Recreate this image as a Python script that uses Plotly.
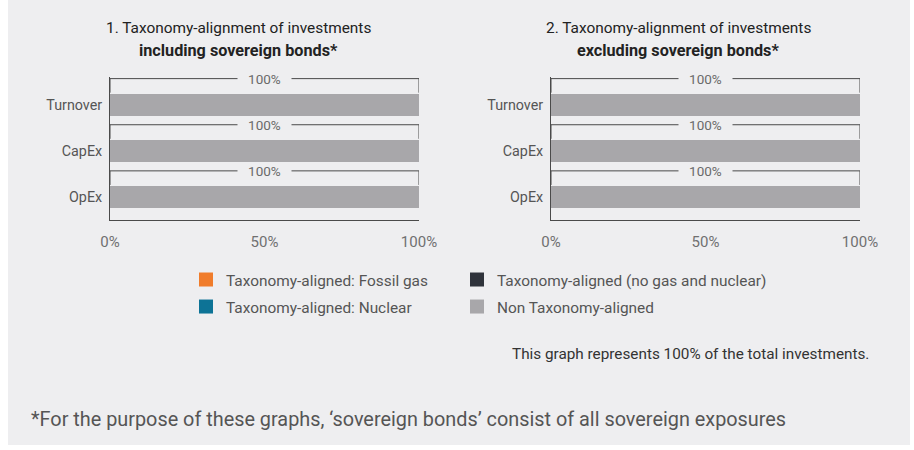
import plotly.graph_objects as go

# ---------------- data ----------------
categories = ["Turnover", "CapEx", "OpEx"]
series_names = [
    "Taxonomy-aligned: Fossil gas",
    "Taxonomy-aligned: Nuclear",
    "Taxonomy-aligned (no gas and nuclear)",
    "Non Taxonomy-aligned",
]
series_colors = ["#F07C2B", "#0D7396", "#2F333B", "#A8A7AA"]

# chart 1: including sovereign bonds
incl_fossil_gas = [0, 0, 0]
incl_nuclear = [0, 0, 0]
incl_aligned_other = [0, 0, 0]
incl_non_aligned = [100, 100, 100]

# chart 2: excluding sovereign bonds
excl_fossil_gas = [0, 0, 0]
excl_nuclear = [0, 0, 0]
excl_aligned_other = [0, 0, 0]
excl_non_aligned = [100, 100, 100]

x_ticks = [0, 50, 100]
x_tick_labels = ["0%", "50%", "100%"]

title_1_line1 = "1. Taxonomy-alignment of investments"
title_1_line2 = "including sovereign bonds*"
title_2_line1 = "2. Taxonomy-alignment of investments"
title_2_line2 = "excluding sovereign bonds*"
note_text = "This graph represents 100% of the total investments."
footnote_text = "*For the purpose of these graphs, \u2018sovereign bonds\u2019 consist of all sovereign exposures"

# ---------------- style ----------------
W, H = 914, 450
FONT = "Roboto, Arial, sans-serif"
PANEL = "#EEEEF0"
AXIS_LINE = "#4A4A4A"

incl = [incl_fossil_gas, incl_nuclear, incl_aligned_other, incl_non_aligned]
excl = [excl_fossil_gas, excl_nuclear, excl_aligned_other, excl_non_aligned]
legend_ids = ["legend", "legend", "legend2", "legend2"]

fig = go.Figure()

for chart_idx, (data, xa, ya) in enumerate([(incl, "x", "y"), (excl, "x2", "y2")]):
    for s_idx, vals in enumerate(data):
        fig.add_trace(go.Bar(
            x=vals, y=categories, orientation="h",
            name=series_names[s_idx],
            marker=dict(color=series_colors[s_idx], line=dict(width=0)),
            xaxis=xa, yaxis=ya,
            width=0.48,
            showlegend=False,
            legendgroup="g%d" % s_idx,
            hoverinfo="skip",
        ))

# legend entries (square keys)
for s_idx, name in enumerate(series_names):
    fig.add_trace(go.Scatter(
        x=[None], y=[None], mode="markers", name=name,
        marker=dict(symbol="square", size=14, color=series_colors[s_idx],
                    line=dict(width=0)),
        xaxis="x", yaxis="y",
        legend=legend_ids[s_idx], legendgroup="g%d" % s_idx,
        showlegend=True, hoverinfo="skip",
    ))

shapes = []
annotations = []

# background panel
shapes.append(dict(type="rect", xref="paper", yref="paper",
                   x0=8 / W, x1=910 / W, y0=1 - 445 / H, y1=1.0,
                   fillcolor=PANEL, line=dict(width=0), layer="below"))

# brackets with totals
BR_TOP = -0.565
BR_BOT = -0.26
for data, xr, yr in [(incl, "x", "y"), (excl, "x2", "y2")]:
    for i, cat in enumerate(categories):
        total = sum(series[i] for series in data)
        y_top = i + BR_TOP
        line = dict(color=AXIS_LINE, width=1)
        shapes.append(dict(type="line", xref=xr, yref=yr, x0=0, x1=total,
                           y0=y_top, y1=y_top, line=line))
        shapes.append(dict(type="line", xref=xr, yref=yr, x0=total, x1=total,
                           y0=y_top, y1=i + BR_BOT, line=line))
        shapes.append(dict(type="line", xref=xr, yref=yr, x0=0, x1=0,
                           y0=y_top, y1=i + BR_BOT, line=line))
        annotations.append(dict(
            xref=xr, yref=yr, x=total / 2, y=y_top,
            text="&nbsp;&nbsp;&nbsp;%d%%&nbsp;&nbsp;&nbsp;" % round(total),
            showarrow=False, bgcolor=PANEL, borderpad=0,
            font=dict(family=FONT, size=13.5, color="#6A6A6A"),
            xanchor="center", yanchor="middle"))

# titles
for l1, l2, xc in [(title_1_line1, title_1_line2, 238), (title_2_line1, title_2_line2, 678)]:
    annotations.append(dict(
        xref="paper", yref="paper", x=xc / W, y=1 - 28 / H,
        text=l1, showarrow=False, align="center",
        xanchor="center", yanchor="middle",
        font=dict(family=FONT, size=15.4, color="#222222")))
    annotations.append(dict(
        xref="paper", yref="paper", x=xc / W, y=1 - 50 / H,
        text="<b>%s</b>" % l2, showarrow=False, align="center",
        xanchor="center", yanchor="middle",
        font=dict(family=FONT, size=16.2, color="#222222")))

# note
annotations.append(dict(
    xref="paper", yref="paper", x=871 / W, y=1 - 354 / H,
    text=note_text, showarrow=False, xanchor="right", yanchor="middle",
    font=dict(family=FONT, size=15.3, color="#333333")))

# footnote
annotations.append(dict(
    xref="paper", yref="paper", x=29 / W, y=1 - 419 / H,
    text=footnote_text, showarrow=False, xanchor="left", yanchor="middle",
    font=dict(family=FONT, size=19.85, color="#555555")))

y_dom = [1 - 220 / H, 1 - 77 / H]
y_range = [2.5, -0.6]

xaxis_common = dict(
    range=[0, 100], tickvals=x_ticks, ticktext=x_tick_labels,
    showgrid=False, zeroline=False, showline=True, linecolor=AXIS_LINE,
    linewidth=1, ticks="", ticklabelstandoff=8, automargin=False,
    tickfont=dict(family=FONT, size=15, color="#707070"),
    fixedrange=True,
)
yaxis_common = dict(
    type="category", categoryorder="array", categoryarray=categories,
    range=y_range, domain=y_dom, showgrid=False, zeroline=False,
    showline=True, linecolor=AXIS_LINE, linewidth=1, ticks="",
    ticklabelstandoff=4, automargin=False,
    tickfont=dict(family=FONT, size=14.3, color="#555555"),
    fixedrange=True,
)

legend_common = dict(
    yanchor="top", xanchor="left", orientation="v",
    bgcolor="rgba(0,0,0,0)", borderwidth=0,
    font=dict(family=FONT, size=15.4, color="#555555"),
    traceorder="grouped", tracegroupgap=4, itemsizing="trace",
    itemclick=False, itemdoubleclick=False,
)

fig.update_layout(
    width=W, height=H,
    margin=dict(l=0, r=0, t=0, b=0, autoexpand=False),
    paper_bgcolor="white",
    plot_bgcolor="rgba(0,0,0,0)",
    barmode="stack",
    font=dict(family=FONT),
    xaxis=dict(domain=[110 / W, 419 / W], anchor="y", **xaxis_common),
    yaxis=dict(anchor="x", **yaxis_common),
    xaxis2=dict(domain=[551 / W, 860 / W], anchor="y2", **xaxis_common),
    yaxis2=dict(anchor="x2", **yaxis_common),
    legend=dict(x=186 / W, y=1 - 263 / H, **legend_common),
    legend2=dict(x=457 / W, y=1 - 263 / H, **legend_common),
    shapes=shapes,
    annotations=annotations,
    showlegend=True,
)

fig.write_html("out.html")
